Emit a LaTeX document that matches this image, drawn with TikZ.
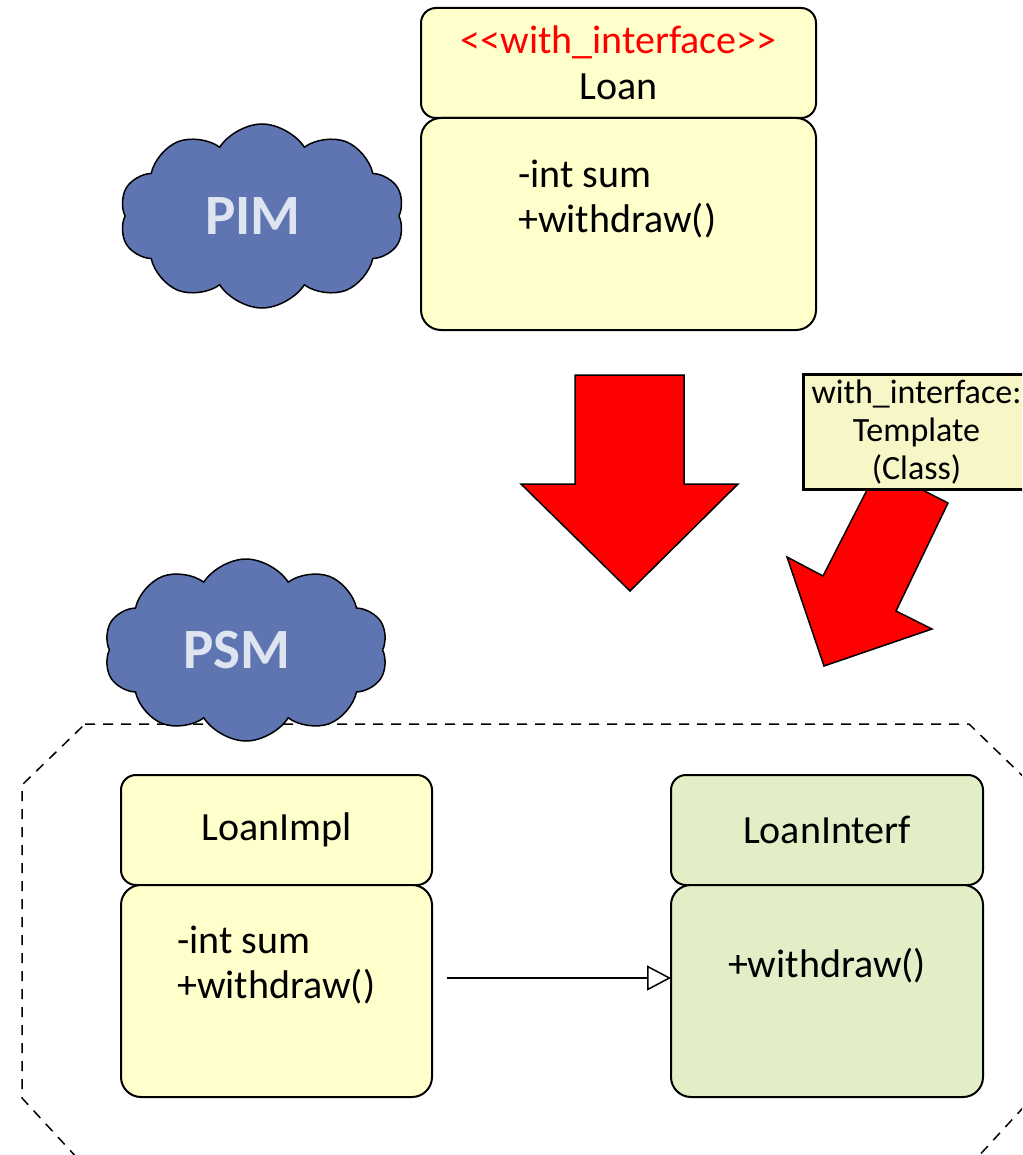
\documentclass[tikz,border=0pt]{standalone}
\usepackage{fontspec}
\setmainfont{Carlito}
\usepackage{xcolor}
\usetikzlibrary{arrows.meta, positioning, shapes.symbols}

\definecolor{classyellow}{RGB}{255,255,204}
\definecolor{classgreen}{RGB}{226,239,198}
\definecolor{noteyellow}{RGB}{246,246,199}
\definecolor{cloudblue}{RGB}{94,117,178}
\definecolor{cloudtext}{RGB}{222,228,240}

\tikzset{
  classhead/.style={draw, line width=2pt, rounded corners=15pt, fill=classyellow,
    inner sep=0pt, outer sep=0pt, minimum height=110pt, align=center,
    font=\fontsize{40}{46}\selectfont},
  classbody/.style={draw, line width=2pt, rounded corners=20pt, fill=classyellow,
    inner sep=0pt, outer sep=0pt, minimum height=212pt},
  attrtext/.style={align=left, inner sep=0pt, font=\fontsize{40}{45}\selectfont},
  modelcloud/.style={cloud, cloud puffs=10, cloud puff arc=115, cloud ignores aspect,
    draw, line width=1.5pt, fill=cloudblue, text=cloudtext, inner sep=0pt,
    font=\bfseries\fontsize{57}{60}\selectfont},
  blockarrow/.style={draw=black, line width=1.5pt, fill=red, line join=miter},
  notebox/.style={draw, line width=3pt, fill=noteyellow, inner sep=0pt,
    minimum width=227pt, minimum height=115pt, align=center,
    font=\fontsize{34}{38}\selectfont},
}

\begin{document}
\begin{tikzpicture}[x=1pt, y=-1pt]
\useasboundingbox (0,0) rectangle (1022,1155);
\clip (0,0) rectangle (1022,1155);

% PIM level
\node[modelcloud, minimum width=285pt, minimum height=184pt] (pim) at (262,216)
  {\hspace*{-18pt}PIM};
\node[classhead, minimum width=395pt] (loanhead) at (618.5,63)
  {\textcolor{red}{<{}<with\_interface>{}>}\\Loan};
\node[classbody, minimum width=395pt, below=0pt of loanhead] (loanbody) {};
\node[attrtext, anchor=west] (loanattr) at (518,199) {-int sum\\+withdraw()};

% Transformation arrows
\draw[blockarrow] (575,375) -- (684,375) -- (684,484) -- (738,484) -- (630,591)
  -- (521,484) -- (575,484) -- cycle;
\draw[blockarrow] (878.5,467.5) -- (948,503) -- (896,611) -- (932,629) -- (824,666)
  -- (787,557) -- (823,576) -- cycle;
\node[notebox] (tmplnote) at (916.5,432) {with\_interface:\\Template\\(Class)};

% PSM level
\draw[dashed, dash pattern=on 10pt off 8pt, line width=1.5pt]
  (85,724) -- (969,724) -- (1032,785) -- (1032,1098) -- (975,1160)
  -- (79,1160) -- (22,1098) -- (22,785) -- cycle;
\node[modelcloud, minimum width=284pt, minimum height=182pt] (psm) at (246,650)
  {\hspace*{-18pt}PSM};

\node[classhead, minimum width=311pt] (implhead) at (276.5,830) {LoanImpl};
\node[classbody, minimum width=311pt, below=0pt of implhead] (implbody) {};
\node[attrtext, anchor=west] (implattr) at (177,965) {-int sum\\+withdraw()};

\node[classhead, fill=classgreen, minimum width=312pt] (ifhead) at (827,830) {LoanInterf};
\node[classbody, fill=classgreen, minimum width=312pt, below=0pt of ifhead] (ifbody) {};
\node[attrtext] (ifattr) at (827,966) {+withdraw()};

% Realization
\coordinate (realstart) at (447,978);
\draw[line width=1.5pt, -{Triangle[open, fill=white, length=24pt, width=25pt]}]
  (realstart) -- (realstart -| ifbody.west);

\end{tikzpicture}
\end{document}
